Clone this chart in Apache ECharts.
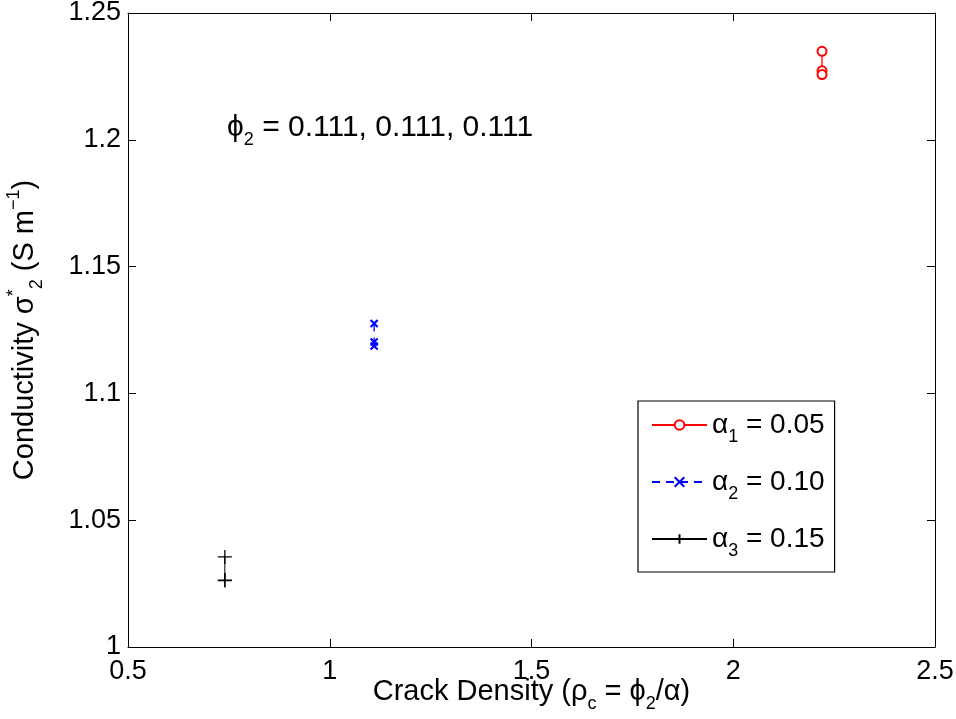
<!DOCTYPE html>
<html><head><meta charset="utf-8">
<script src="https://cdn.jsdelivr.net/npm/echarts@6/dist/echarts.min.js"></script>
<style>html,body{margin:0;padding:0;background:#fff}#c{width:956px;height:719px}</style>
</head><body><div id="c"></div>
<script>
const crackDensity = [2.22, 1.11, 0.74];
const condAlpha1 = [1.2349, 1.2272, 1.2257];
const condAlpha2 = [1.1276, 1.1203, 1.1187];
const condAlpha3 = [1.0355, 1.0264, 1.0262];
const seriesNames = ['α1 = 0.05', 'α2 = 0.10', 'α3 = 0.15'];
const legendParts = [['1', ' = 0.05'], ['2', ' = 0.10'], ['3', ' = 0.15']];
const xTicks = [0.5, 1, 1.5, 2, 2.5];
const yTicks = [1, 1.05, 1.1, 1.15, 1.2, 1.25];

const FONT = 'Liberation Sans, Arial, sans-serif';
const FS = 27;
const FT = 29;
const chart = echarts.init(document.getElementById('c'), null, {renderer: 'canvas'});
const pairs = (vals, x) => vals.map(v => [x, v]);
const xPath = 'path://M0,0L10,10M10,0L0,10';
const plusPath = 'path://M5,0L5,10M0,5L10,5';

const axisCommon = {
  axisLine: {show: true, onZero: false, lineStyle: {color: '#000', width: 1}},
  axisTick: {show: true, inside: true, length: 8, lineStyle: {color: '#000'}},
  splitLine: {show: false}
};
const richT = {fontFamily: FONT, fontSize: FT, color: '#000'};
const richSub = {fontFamily: FONT, fontSize: 18, color: '#000', padding: [24, 0, 0, 0]};
const richSup = {fontFamily: FONT, fontSize: 18, color: '#000', padding: [0, 0, 22, 0]};

chart.setOption({
  animation: false,
  backgroundColor: '#fff',
  grid: {left: 128, right: 21, top: 13, bottom: 72, containLabel: false, outerBoundsMode: 'none'},
  xAxis: [
    Object.assign({type: 'value', min: 0.5, max: 2.5, interval: 0.5, position: 'bottom',
      axisLabel: {color: '#000', fontFamily: FONT, fontSize: FS, margin: 11,
        formatter: v => String(v)},
      name: '{t|Crack Density (ρ}{sub|c}{t| = ϕ}{sub|2}{t|/α)}',
      nameLocation: 'middle', nameGap: 24, nameMoveOverlap: false,
      nameTextStyle: {fontFamily: FONT, color: '#000', fontSize: FT,
        rich: {t: richT, sub: richSub}}
    }, axisCommon),
    Object.assign({type: 'value', min: 0.5, max: 2.5, interval: 0.5, position: 'top',
      axisLabel: {show: false}}, axisCommon)
  ],
  yAxis: [
    Object.assign({type: 'value', min: 1, max: 1.25, interval: 0.05, position: 'left',
      axisLabel: {color: '#000', fontFamily: FONT, fontSize: FS, margin: 7,
        formatter: v => String(+v.toFixed(2))},
      name: '{t|Conductivity σ}{sup|*}{sub|2}{t| (S m}{sup|−1}{t|)}',
      nameLocation: 'middle', nameGap: 82, nameRotate: 90, nameMoveOverlap: false,
      nameTextStyle: {fontFamily: FONT, color: '#000', fontSize: FT,
        rich: {t: richT, sub: richSub, sup: richSup}}
    }, axisCommon),
    Object.assign({type: 'value', min: 1, max: 1.25, interval: 0.05, position: 'right',
      axisLabel: {show: false}}, axisCommon)
  ],
  legend: {
    orient: 'vertical', left: 638, top: 401,
    padding: [10, 10, 12, 13], itemGap: 22,
    backgroundColor: '#fff', borderColor: '#000', borderWidth: 1.2,
    itemWidth: 55, itemHeight: 12,
    data: seriesNames,
    formatter: name => {
      const i = seriesNames.indexOf(name);
      return '{t|α}{sub|' + legendParts[i][0] + '}{t|' + legendParts[i][1] + '}';
    },
    textStyle: {fontFamily: FONT, fontSize: 28, color: '#000',
      rich: {t: {fontFamily: FONT, fontSize: 28, color: '#000'}, sub: richSub}}
  },
  graphic: [{
    type: 'text', left: 227, top: 113,
    style: {
      text: '{t|ϕ}{sub|2}{t| = 0.111, 0.111, 0.111}',
      rich: {t: {fontFamily: FONT, fontSize: 30, fill: '#000'},
             sub: {fontFamily: FONT, fontSize: 18, fill: '#000', padding: [24, 0, 0, 0]}}
    }
  }],
  series: [
    {name: seriesNames[0], type: 'line', data: pairs(condAlpha1, crackDensity[0]),
      symbol: 'emptyCircle', symbolSize: 9, showAllSymbol: true,
      lineStyle: {color: '#ff0000', width: 1.3},
      itemStyle: {color: '#ff0000', borderColor: '#ff0000', borderWidth: 2}},
    {name: seriesNames[1], type: 'line', data: pairs(condAlpha2, crackDensity[1]),
      symbol: xPath, symbolSize: 7, showAllSymbol: true,
      lineStyle: {color: '#0000ff', width: 1.3, type: [8, 6]},
      itemStyle: {color: '#0000ff', borderColor: '#0000ff', borderWidth: 2.2}},
    {name: seriesNames[2], type: 'line', data: pairs(condAlpha3, crackDensity[2]),
      symbol: plusPath, symbolSize: 14, showAllSymbol: true,
      lineStyle: {color: '#000', width: 1},
      itemStyle: {color: '#000', borderColor: '#000', borderWidth: 1.3}}
  ]
});
</script></body></html>
